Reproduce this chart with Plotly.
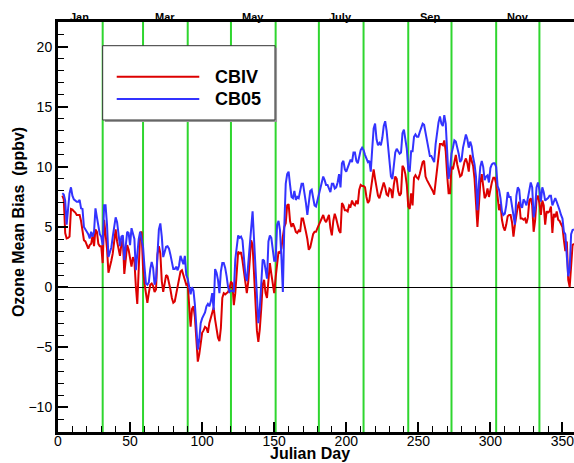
import plotly.graph_objects as go

# ---------------- data ----------------
first_day = 3
last_day = 358
days = list(range(first_day, last_day + 1))

cbiv = [
    7.6, 7.3, 4.5, 4.05, 4.1, 4.2, 6.5, 6.45,                 # 3-10
    6.3, 6.2, 6.0, 6.0, 6.0, 5.5, 4.6, 3.9, 3.8, 3.4,          # 11-20
    3.2, 3.5, 3.6, 4.3, 3.4, 4.8, 4.6, 3.6, 3.4, 3.4,          # 21-30
    2.0, 5.6, 4.5, 3.2, 1.2, 1.6, 2.2, 2.8, 3.8, 4.8,          # 31-40
    3.8, 3.0, 2.6, 3.6, 4.0, 1.1, 2.3, 3.5, 3.1, 2.2,          # 41-50
    1.7, 2.5, 2.2, 0.1, -1.4, 1.5, 4.5, 4.6, 1.6, 0.3,         # 51-60
    -0.6, -1.3, -0.5, 0.2, 0.3, 0.1, -0.4, -0.2, 2.7, 3.4,     # 61-70
    2.8, 0.5, -0.4, 0.3, 1.0, 0.9, 0.4, -0.2, -0.9, -1.3,      # 71-80
    -1.2, -0.6, 0.0, 0.9, 1.3, 1.4, 1.0, 0.6, 0.2, 0.3,        # 81-90
    -1.8, -3.3, -1.8, -1.6, -2.5, -5.0, -6.2, -5.6, -4.4, -3.8,  # 91-100
    -3.6, -3.3, -3.4, -3.8, -3.0, -2.6, -2.0, -1.7, -2.7, -3.6,  # 101-110
    -4.2, -4.5, -3.4, -0.9, -0.5, -0.6, -0.5, -0.4, -0.1, 0.45,  # 111-120
    0.3, -1.5, -0.5, 1.8, 2.95, 2.8, 2.9, 2.2, 1.2, 0.1,       # 121-130
    -0.5, 0.45, 2.6, 3.9, 3.5, 0.8, -1.5, -3.6, -4.55, -3.5,   # 131-140
    -1.8, 0.2, 0.6, -0.5, -0.9, 0.9, 2.0, 1.1, 0.2, -0.5,      # 141-150
    0.8, 2.2, 2.95, 2.8, 3.2, 4.2, 5.0, 5.3, 6.8, 6.9,         # 151-160
    5.5, 5.0, 5.3, 5.0, 4.6, 4.5, 4.7, 4.6, 5.7, 5.7,          # 161-170
    5.0, 4.6, 4.0, 3.1, 3.3, 3.9, 4.4, 4.6, 4.6, 4.9,          # 171-180
    5.2, 5.4, 5.8, 6.0, 5.6, 5.4, 5.7, 6.0, 4.9, 4.3,          # 181-190
    5.5, 6.1, 5.7, 5.2, 4.7, 4.5, 7.0, 6.8, 6.4, 6.4,          # 191-200
    6.3, 6.8, 6.7, 7.2, 6.9, 6.8, 7.2, 6.9, 8.1, 8.5,          # 201-210
    8.4, 8.4, 8.3, 7.5, 7.0, 7.2, 8.0, 9.1, 9.8, 9.0,          # 211-220
    8.3, 7.6, 7.4, 7.8, 8.2, 8.7, 8.3, 7.7, 7.6, 8.2,          # 221-230
    8.1, 7.4, 8.5, 9.2, 9.0, 8.0, 7.6, 7.8, 10.1, 9.9,         # 231-240
    9.4, 8.5, 6.7, 6.5, 7.8, 6.8, 9.1, 9.3, 9.1, 9.0,          # 241-250
    9.4, 10.0, 10.4, 10.5, 9.2, 8.9, 8.7, 8.5, 8.3, 8.0,       # 251-260
    7.7, 8.9, 9.7, 10.9, 11.9, 11.9, 11.8, 12.2, 11.3, 9.3,    # 261-270
    7.8, 7.8, 10.0, 9.8, 10.5, 11.0, 10.2, 9.8, 9.2, 9.3,      # 271-280
    9.9, 10.4, 10.7, 10.3, 9.6, 11.0, 10.5, 10.1, 9.0, 6.8,    # 281-290
    5.0, 6.8, 8.7, 9.4, 8.6, 7.4, 7.6, 8.2, 7.5, 8.3,          # 291-300
    8.7, 9.1, 9.1, 8.6, 7.5, 6.4, 6.9, 5.6, 5.0, 4.7,          # 301-310
    5.2, 5.9, 6.0, 6.0, 5.4, 4.2, 5.2, 6.1, 6.7, 7.1,          # 311-320
    5.7, 5.7, 5.6, 5.7, 5.3, 5.8, 7.2, 7.4, 6.8, 4.6,          # 321-330
    5.5, 7.3, 7.6, 7.0, 6.0, 7.2, 6.8, 5.2, 6.3, 6.2,          # 331-340
    6.3, 6.7, 4.5, 6.1, 5.8, 6.3, 5.6, 5.5, 5.3, 5.0,          # 341-350
    3.9, 3.0, 3.8, 0.6, 0.0, 2.2, 3.5, 3.6,                    # 351-358
]

cb05 = [
    7.8, 7.7, 7.2, 5.2, 6.5, 7.8, 8.3, 7.6,                    # 3-10
    7.3, 7.2, 7.1, 7.1, 7.25, 6.55, 6.5, 5.0, 4.75, 4.6,       # 11-20
    4.4, 4.05, 4.6, 4.2, 4.6, 6.55, 5.8, 5.0, 4.4, 4.2,        # 21-30
    3.5, 6.8, 6.8, 5.2, 2.5, 2.9, 3.3, 4.2, 5.0, 5.8,          # 31-40
    5.4, 4.2, 3.4, 4.2, 4.3, 2.25, 3.35, 4.6, 4.5, 3.5,        # 41-50
    4.9, 4.4, 4.0, 1.4, 2.8, 4.0, 4.6, 4.0, 3.35, 1.7,         # 51-60
    0.3, 0.2, 0.4, 1.5, 2.1, 1.6, 0.2, 0.6, 2.6, 4.8,          # 61-70
    5.3, 4.2, 2.5, 2.9, 3.35, 3.4, 3.2, 2.7, 2.0, 1.5,         # 71-80
    1.5, 1.7, 1.4, 1.8, 2.6, 2.3, 1.9, 2.6, 1.0, 0.7,          # 81-90
    0.0, -0.6, 0.0, -0.3, -1.5, -4.0, -5.2, -4.4, -3.0, -2.6,  # 91-100
    -2.4, -2.1, -1.6, -1.4, -1.6, -1.2, -0.5, -1.9, 1.5, 1.2,  # 101-110
    0.6, -0.5, 1.3, 2.0, 2.0, 1.6, 0.9, 0.0, -0.4, -0.3,       # 111-120
    -0.3, -0.4, 2.3, 3.6, 4.3, 4.1, 4.2, 3.9, 2.5, 1.0,        # 121-130
    0.5, 2.0, 3.7, 5.2, 6.3, 4.0, 1.5, -1.2, -3.0, -1.8,       # 131-140
    0.5, 2.3, 2.2, 1.2, 0.7, 3.8, 4.3, 4.1, 3.0, 2.2,          # 141-150
    2.2, 5.2, 5.5, 4.75, 2.5, -0.4, 5.0, 8.6, 9.4, 9.6,        # 151-160
    8.5, 7.5, 7.4, 8.0, 7.25, 7.5, 7.4, 7.9, 8.6, 8.6,         # 161-170
    7.9, 7.0, 6.0, 6.8, 8.0, 8.1, 7.4, 6.8, 6.7, 7.2,          # 171-180
    7.8, 8.4, 8.7, 9.2, 8.9, 8.5, 8.5, 8.2, 7.9, 8.6,          # 181-190
    8.6, 8.2, 8.3, 8.7, 9.4, 8.3, 10.3, 10.5, 9.8, 9.6,        # 191-200
    10.0, 10.2, 10.6, 10.4, 11.2, 11.2, 10.5, 10.3, 10.8, 11.4,  # 201-210
    11.6, 11.4, 11.0, 10.6, 10.4, 10.5, 9.6, 11.5, 13.2, 13.6,   # 211-220
    12.3, 11.8, 12.0, 11.8, 12.4, 13.4, 13.8, 13.0, 11.8, 10.3,  # 221-230
    9.2, 9.0, 9.9, 11.2, 11.5, 11.3, 11.1, 11.2, 12.8, 13.1,     # 231-240
    12.4, 11.5, 9.8, 9.6, 11.3, 11.3, 12.5, 12.7, 12.5, 12.5,    # 241-250
    12.9, 13.3, 13.6, 13.5, 12.8, 12.0, 11.3, 10.9, 10.9, 10.7,  # 251-260
    10.4, 11.9, 13.0, 13.7, 14.2, 13.6, 13.4, 14.3, 13.6, 10.5,  # 261-270
    9.0, 9.8, 11.1, 11.6, 12.2, 12.1, 11.7, 11.1, 10.4, 10.6,    # 271-280
    11.6, 12.3, 12.7, 12.3, 11.6, 12.1, 11.7, 10.8, 10.2, 9.2,   # 281-290
    6.4, 8.6, 10.0, 10.5, 10.0, 8.9, 9.2, 9.3, 8.7, 9.9,         # 291-300
    10.2, 10.3, 10.3, 10.0, 8.4, 8.1, 7.4, 6.3, 6.0, 6.1,        # 301-310
    6.8, 7.9, 7.5, 7.5, 6.7, 6.0, 5.2, 7.6, 8.3, 8.1,            # 311-320
    6.8, 6.6, 7.3, 7.1, 6.8, 7.4, 8.2, 8.7, 8.3, 5.8,            # 321-330
    6.5, 8.3, 8.7, 8.1, 7.1, 8.3, 7.9, 7.2, 7.3, 7.4,            # 331-340
    7.6, 7.6, 6.8, 7.2, 7.4, 7.1, 6.8, 6.4, 6.0, 5.7,            # 341-350
    4.6, 4.4, 2.6, 0.9, 1.5, 4.4, 4.75, 4.8,                     # 351-358
]

assert len(cbiv) == len(days) and len(cb05) == len(days)

series_names = ["CBIV", "CB05"]
series_colors = ["#dd0000", "#3333ff"]

month_labels = ["Jan", "Mar", "May", "July", "Sep", "Nov"]
month_label_days = [15, 74, 135, 196, 258, 319]
month_boundaries = [31, 59, 90, 120, 151, 181, 212, 243, 273, 304, 334]

x_ticks = [0, 50, 100, 150, 200, 250, 300, 350]
y_ticks = [-10, -5, 0, 5, 10, 15, 20]

FONT = "Arial, 'Liberation Sans', sans-serif"

# ---------------- figure ----------------
fig = go.Figure()
for name, vals, col in zip(series_names, [cbiv, cb05], series_colors):
    fig.add_trace(go.Scatter(x=days, y=vals, mode="lines", name=name,
                             line=dict(color=col, width=2), showlegend=False))

# green month-boundary lines (below data)
for d in month_boundaries:
    fig.add_shape(type="line", xref="x", yref="paper", x0=d, x1=d, y0=0, y1=1,
                  line=dict(color="#2fd62f", width=2), layer="below")

# month labels on top
for lab, d in zip(month_labels, month_label_days):
    fig.add_annotation(x=d, y=1, xref="x", yref="paper", text=f"<b>{lab}</b>",
                       showarrow=False, yanchor="bottom", yshift=-3,
                       font=dict(family=FONT, size=11, color="black"))

# custom legend box (paper coords)
bx0, bx1, by0, by1 = 0.0866, 0.4205, 0.761, 0.9422
fig.add_shape(type="rect", xref="paper", yref="paper",
              x0=bx0 + 0.004, x1=bx1 + 0.004, y0=by0 - 0.005, y1=by1 - 0.005,
              line=dict(width=0), fillcolor="#999999", layer="above")
fig.add_shape(type="rect", xref="paper", yref="paper",
              x0=bx0, x1=bx1, y0=by0, y1=by1,
              line=dict(color="#333333", width=1), fillcolor="white", layer="above")
leg_rows = [0.8666, 0.8122]
for name, col, yy in zip(series_names, series_colors, leg_rows):
    fig.add_shape(type="line", xref="paper", yref="paper",
                  x0=0.1138, x1=0.2738, y0=yy, y1=yy,
                  line=dict(color=col, width=2), layer="above")
    fig.add_annotation(x=0.2998, y=yy, xref="paper", yref="paper",
                       text=f"<b>{name}</b>", showarrow=False,
                       xanchor="left", yanchor="middle",
                       font=dict(family=FONT, size=18, color="black"))

# axis titles as annotations
fig.add_annotation(x=0.488, y=-0.053, xref="paper", yref="paper",
                   text="<b>Julian Day</b>", showarrow=False,
                   xanchor="center", yanchor="middle",
                   font=dict(family=FONT, size=16, color="black"))
fig.add_annotation(x=-0.0775, y=0.512, xref="paper", yref="paper",
                   text="<b>Ozone Mean Bias\u00a0\u00a0(ppbv)</b>", showarrow=False,
                   textangle=-90, xanchor="center", yanchor="middle",
                   font=dict(family=FONT, size=16, color="black"))

fig.update_xaxes(range=[0, 358], tickvals=x_ticks, ticks="inside", ticklen=10,
                 tickwidth=1.5, tickcolor="black",
                 minor=dict(dtick=10, ticks="inside", ticklen=6, tickwidth=1, tickcolor="black"),
                 showline=True, linewidth=3, linecolor="black", mirror=True,
                 showgrid=False, zeroline=False, automargin=False,
                 ticklabelstandoff=-6, ticklabeloverflow="allow",
                 tickfont=dict(family=FONT, size=14, color="black"))
fig.update_yaxes(range=[-12.05, 22.05], tickvals=y_ticks, ticks="inside", ticklen=10,
                 tickwidth=1.5, tickcolor="black",
                 minor=dict(dtick=1, ticks="inside", ticklen=6, tickwidth=1, tickcolor="black"),
                 showline=True, linewidth=3, linecolor="black", mirror=False,
                 showgrid=False, zeroline=True, zerolinecolor="black", zerolinewidth=1,
                 automargin=False,
                 tickfont=dict(family=FONT, size=14, color="black"))

fig.update_layout(width=574, height=463,
                  margin=dict(l=58, r=0, t=22, b=31, autoexpand=False),
                  paper_bgcolor="white", plot_bgcolor="white",
                  showlegend=False)

fig.write_html("out.html",
               config={"displayModeBar": False},
               post_script="document.body.style.margin='0';"
                           "document.body.style.overflow='hidden';")
